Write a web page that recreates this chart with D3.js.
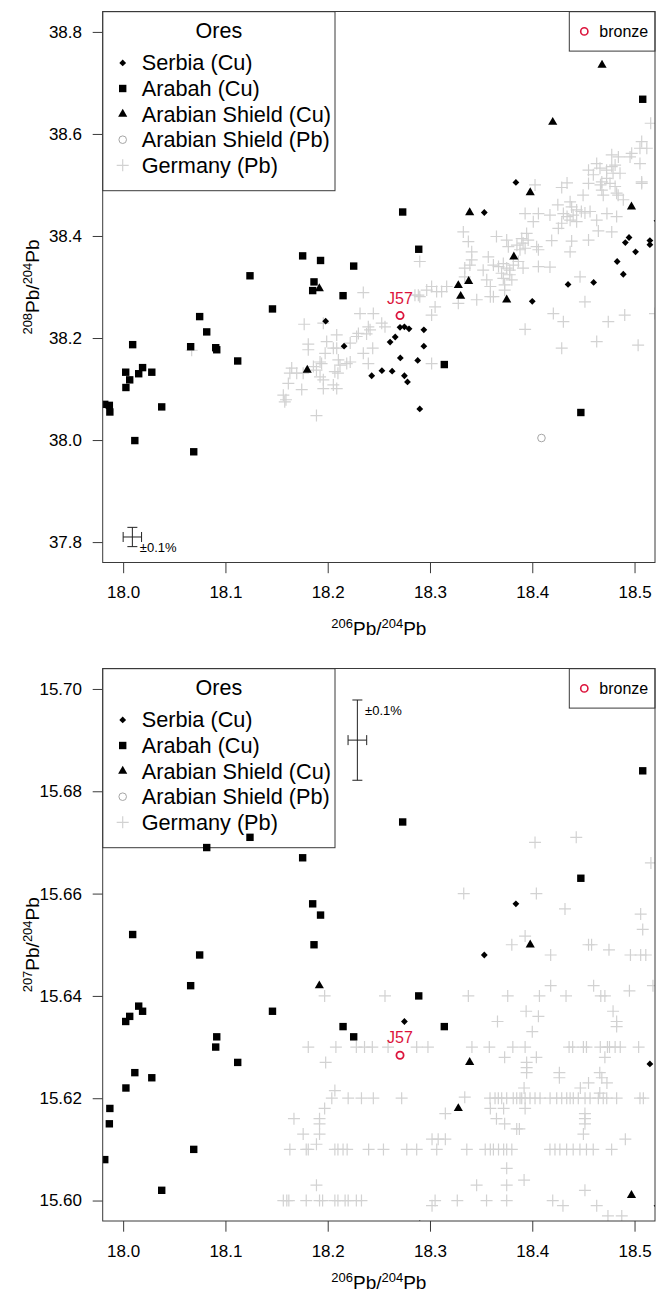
<!DOCTYPE html>
<html>
<head>
<meta charset="utf-8">
<script src="https://cdn.jsdelivr.net/npm/d3@7"></script>
<style>
  html, body { margin: 0; padding: 0; background: #fff; }
  svg { display: block; font-family: "Liberation Sans", Arial, Helvetica, sans-serif; }
</style>
</head>
<body>
<svg id="chart" width="665" height="1294"></svg>
<script>
// ---- Axis limits and tick labels ----
const x206Limits = [18.0, 18.5];
const y208Limits = [37.8, 38.8];
const y207Limits = [15.60, 15.70];
const x206Ticks = [18.0, 18.1, 18.2, 18.3, 18.4, 18.5];
const y208Ticks = [37.8, 38.0, 38.2, 38.4, 38.6, 38.8];
const y207Ticks = [15.60, 15.62, 15.64, 15.66, 15.68, 15.70];

// ---- Ore groups (null = outside the plotted range of that ratio) ----
const oreNames = ["Serbia (Cu)", "Arabah (Cu)", "Arabian Shield (Cu)", "Arabian Shield (Pb)", "Germany (Pb)"];

const serbia206 = [18.384, 18.3531, 18.522, 18.4946, 18.491, 18.515, 18.515, 18.501, 18.483, 18.489,
  18.460, 18.435, 18.400, 18.2707, 18.275, 18.2795, 18.294, 18.266, 18.261, 18.294,
  18.271, 18.288, 18.253, 18.263, 18.243, 18.275, 18.278, 18.290, 18.198, 18.216];
const serbia208 = [38.505, 38.446, 38.430, 38.397, 38.387, 38.391, 38.383, 38.369, 38.350, 38.325,
  38.309, 38.305, 38.272, 38.221, 38.222, 38.218, 38.216, 38.202, 38.192, 38.184,
  38.161, 38.156, 38.136, 38.135, 38.126, 38.126, 38.114, 38.061, 38.233, 38.184];
const serbia207 = [15.658, 15.648, 15.599, null, null, 15.6267, null, null, null, null,
  null, null, null, null, 15.635, null, null, null, null, null,
  null, null, null, null, null, null, null, 15.5955, null, null];

const arabah206 = [18.1755, 18.193, 18.2254, 18.124, 18.1866, 18.1853, 18.215, 18.146, 18.0748, 18.0817,
  18.0093, 18.066, 18.0905, 18.0915, 18.112, 18.019, 18.0025, 18.0152, 18.028, 18.0064,
  18.0027, 18.0377, 17.982, 17.9865, 17.987, 18.0114, 18.069, 18.2733, 18.289, 18.314,
  18.4475, 18.508];
const arabah208 = [38.361, 38.352, 38.341, 38.322, 38.310, 38.293, 38.283, 38.257, 38.242, 38.212,
  38.187, 38.183, 38.181, 38.177, 38.155, 38.142, 38.133, 38.130, 38.133, 38.118,
  38.103, 38.065, 38.070, 38.068, 38.055, 37.999, 37.977, 38.447, 38.374, 38.148,
  38.054, 38.668];
const arabah207 = [15.667, 15.6558, 15.632, 15.671, 15.650, 15.658, 15.634, 15.637, 15.648, 15.669,
  15.652, 15.642, 15.630, 15.632, 15.627, 15.637, 15.635, 15.638, 15.624, 15.636,
  15.622, 15.602, 15.608, 15.615, 15.618, 15.625, 15.610, 15.674, 15.640, 15.634,
  15.663, 15.684];

const shieldCu206 = [18.4682, 18.420, 18.398, 18.3388, 18.497, 18.382, 18.3277, 18.3378, 18.330, 18.375, 18.1918, 18.180];
const shieldCu208 = [38.735, 38.623, 38.485, 38.446, 38.457, 38.359, 38.303, 38.311, 38.282, 38.275, 38.297, 38.137];
const shieldCu207 = [null, null, 15.650, 15.627, 15.601, null, 15.618, null, null, null, 15.642, null];

const shieldPb206 = [18.409];
const shieldPb208 = [38.004];
const shieldPb207 = [null];

const germany208 = [
  [18.2348,38.289],[18.2316,38.248],[18.2446,38.248],[18.177,38.227],[18.1957,38.229],[18.2397,38.222],
  [18.2088,38.206],[18.230,38.209],[18.2283,38.203],[18.238,38.208],[18.181,38.188],[18.199,38.193],
  [18.2055,38.180],[18.2088,38.180],[18.222,38.190],[18.244,38.180],[18.2348,38.170],[18.181,38.177],
  [18.1975,38.170],[18.1925,38.153],[18.194,38.150],[18.2104,38.157],[18.212,38.147],[18.2186,38.150],
  [18.222,38.153],[18.2397,38.150],[18.1648,38.141],[18.163,38.131],[18.176,38.131],[18.186,38.144],
  [18.189,38.137],[18.1925,38.124],[18.207,38.134],[18.210,38.131],[18.1697,38.131],[18.1957,38.118],
  [18.1615,38.111],[18.1746,38.099],[18.1957,38.101],[18.2055,38.108],[18.2088,38.101],[18.1566,38.088],
  [18.1592,38.079],[18.189,38.048],[18.067,38.176],[18.158,38.075],
  [18.4027,38.500],[18.4288,38.495],[18.434,38.504],[18.455,38.503],[18.4667,38.500],[18.468,38.490],
  [18.4694,38.480],[18.476,38.503],[18.484,38.480],[18.489,38.471],[18.507,38.503],[18.4497,38.480],
  [18.425,38.461],[18.437,38.467],[18.4385,38.457],[18.4434,38.451],[18.448,38.448],[18.4515,38.445],
  [18.4565,38.448],[18.4304,38.444],[18.434,38.438],[18.437,38.431],[18.4288,38.425],[18.4255,38.415],
  [18.440,38.441],[18.4434,38.428],[18.463,38.431],[18.473,38.444],[18.4825,38.438],[18.4777,38.408],
  [18.4646,38.410],[18.455,38.392],[18.4385,38.390],[18.437,38.369],[18.419,38.391],[18.406,38.444],
  [18.393,38.444],[18.401,38.428],[18.4173,38.441],[18.3945,38.405],[18.396,38.392],[18.3897,38.395],
  [18.391,38.386],[18.393,38.376],[18.385,38.382],[18.388,38.373],[18.4043,38.379],[18.406,38.373],
  [18.375,38.392],[18.3766,38.379],[18.365,38.399],[18.357,38.359],[18.362,38.343],[18.367,38.340],
  [18.3717,38.346],[18.375,38.337],[18.378,38.333],[18.3815,38.343],[18.391,38.337],[18.3864,38.350],
  [18.4173,38.339],[18.406,38.340],[18.370,38.327],[18.3717,38.317],[18.373,38.304],[18.373,38.294],
  [18.378,38.324],[18.380,38.314],[18.352,38.333],[18.3555,38.314],[18.359,38.301],[18.359,38.281],
  [18.362,38.281],[18.3457,38.275],[18.3408,38.353],[18.339,38.343],[18.334,38.337],[18.334,38.320],
  [18.3326,38.408],[18.3375,38.389],[18.3408,38.369],[18.3277,38.268],[18.3163,38.301],[18.3114,38.291],
  [18.3065,38.291],[18.3016,38.301],[18.2968,38.294],[18.2886,38.284],[18.2853,38.284],[18.305,38.261],
  [18.3016,38.245],[18.290,38.350],[18.290,38.281],[18.2414,38.216],[18.2528,38.229],[18.256,38.222],
  [18.3016,38.150],[18.4206,38.248],[18.4304,38.232],[18.393,38.217],[18.4288,38.180],[18.4467,38.320],
  [18.4515,38.271],[18.463,38.193],[18.4743,38.232],[18.4904,38.245],[18.5035,38.186],[18.520,38.248],
  [18.5158,38.621],[18.507,38.585],[18.5053,38.572],[18.512,38.572],[18.4972,38.562],[18.4956,38.555],
  [18.4777,38.559],[18.4842,38.555],[18.481,38.539],[18.4777,38.536],[18.5053,38.542],[18.463,38.542],
  [18.4662,38.533],[18.4727,38.529],[18.479,38.523],[18.4858,38.523],[18.455,38.529],[18.4597,38.520],
  [18.468,38.506],[18.4727,38.513],[18.507,38.506],[18.481,38.497],[18.4825,38.484]
];

const germany207 = [
  [18.4027,15.670],[18.443,15.671],[18.516,15.666],[18.333,15.660],[18.404,15.660],[18.432,15.657],
  [18.506,15.656],[18.508,15.653],[18.393,15.6517],[18.380,15.650],[18.455,15.650],[18.458,15.650],
  [18.475,15.649],[18.496,15.648],[18.506,15.648],[18.511,15.648],[18.418,15.648],[18.418,15.642],
  [18.460,15.642],[18.495,15.641],[18.518,15.642],[18.256,15.640],[18.3375,15.640],[18.376,15.640],
  [18.407,15.640],[18.433,15.640],[18.467,15.640],[18.471,15.640],[18.197,15.640],[18.394,15.637],
  [18.406,15.636],[18.366,15.635],[18.400,15.633],[18.479,15.637],[18.4825,15.635],[18.4825,15.634],
  [18.181,15.630],[18.208,15.630],[18.228,15.630],[18.236,15.630],[18.2436,15.630],[18.259,15.630],
  [18.287,15.630],[18.298,15.630],[18.341,15.630],[18.358,15.630],[18.381,15.630],[18.393,15.630],
  [18.436,15.630],[18.4395,15.630],[18.450,15.630],[18.453,15.630],[18.4665,15.630],[18.4735,15.630],
  [18.4755,15.630],[18.481,15.630],[18.486,15.630],[18.504,15.630],
  [18.198,15.627],[18.207,15.6215],[18.204,15.620],[18.220,15.620],[18.233,15.620],[18.197,15.618],
  [18.167,15.616],[18.192,15.616],[18.192,15.615],[18.176,15.613],[18.192,15.613],[18.189,15.611],
  [18.163,15.610],[18.179,15.610],[18.181,15.610],[18.207,15.610],[18.210,15.610],[18.215,15.610],
  [18.219,15.610],[18.240,15.610],[18.189,15.603],
  [18.1566,15.600],[18.160,15.600],[18.162,15.600],[18.179,15.600],[18.192,15.600],[18.195,15.600],
  [18.207,15.600],[18.210,15.600],[18.217,15.600],[18.220,15.600],[18.228,15.600],[18.233,15.600],
  [18.373,15.628],[18.3945,15.627],[18.404,15.628],[18.3945,15.626],[18.3945,15.625],[18.471,15.628],
  [18.4265,15.625],[18.4265,15.624],[18.466,15.625],[18.468,15.624],[18.473,15.623],[18.455,15.623],
  [18.447,15.622],[18.466,15.621],[18.392,15.622],
  [18.2446,15.620],[18.2723,15.620],[18.3587,15.620],[18.3636,15.620],[18.3668,15.620],[18.3701,15.620],
  [18.375,15.620],[18.3814,15.620],[18.3848,15.620],[18.388,15.620],[18.3897,15.620],[18.393,15.620],
  [18.3978,15.620],[18.4027,15.620],[18.4076,15.620],[18.4174,15.620],[18.4239,15.620],[18.4288,15.620],
  [18.4337,15.620],[18.437,15.620],[18.4401,15.620],[18.445,15.620],[18.4516,15.620],[18.4565,15.620],
  [18.4646,15.620],[18.4694,15.620],[18.4728,15.620],[18.4825,15.620],[18.5053,15.620],[18.5086,15.620],
  [18.334,15.6202],[18.315,15.617],[18.359,15.618],[18.372,15.618],[18.393,15.618],[18.365,15.616],
  [18.373,15.615],[18.3848,15.614],[18.3874,15.614],[18.4515,15.617],[18.4515,15.616],[18.4515,15.615],
  [18.450,15.613],[18.302,15.612],[18.308,15.612],[18.315,15.612],[18.491,15.612],
  [18.2545,15.610],[18.2773,15.610],[18.287,15.610],[18.3066,15.610],[18.336,15.610],[18.354,15.610],
  [18.359,15.610],[18.362,15.610],[18.367,15.610],[18.372,15.610],[18.375,15.610],[18.380,15.610],
  [18.4173,15.610],[18.4222,15.610],[18.427,15.610],[18.4336,15.610],[18.440,15.610],[18.4466,15.610],
  [18.453,15.610],[18.4596,15.610],[18.4776,15.610],
  [18.375,15.6063],[18.375,15.603],[18.375,15.600],[18.392,15.604],[18.3456,15.603],[18.4515,15.602],
  [18.305,15.600],[18.302,15.599],[18.3267,15.600],[18.3553,15.600],[18.420,15.600],[18.430,15.599],
  [18.463,15.599],[18.474,15.597],[18.4875,15.597]
];

// ---- Bronze sample ----
const bronzeLabels = ["J57"];
const bronze206 = [18.2707];
const bronze208 = [38.244];
const bronze207 = [15.6284];

// ---- Measurement uncertainty marker (full bar span = 0.1 % of the value) ----
const errLabel = "\u00b10.1%";
const errSpan = 0.001;
const errCentre206 = [18.009, 18.229];
const errCentre208 = [37.81];
const errCentre207 = [15.690];

// ---- Layout ----
const W = 665, H = 1294;
const plotLeft = 102.7, plotRight = 655;
const FONT = '"Liberation Sans", Arial, Helvetica, sans-serif';
const BLACK = "#000", FRAME = "#3a3a3a";
const GREY_CROSS = "#d2d2d2", GREY_CIRCLE = "#a6a6a6", BRONZE = "#dc143c";

const svg = d3.select("#chart");
svg.append("rect").attr("width", W).attr("height", H).attr("fill", "#fff");

// R-style axis extension (4 % on each side)
function padded(lim) { const d = (lim[1] - lim[0]) * 0.04; return [lim[0] - d, lim[1] + d]; }

// ---- Point symbols ----
function drawSquare(g, cx, cy, s) {
  g.append("rect").attr("x", cx - s / 2).attr("y", cy - s / 2).attr("width", s).attr("height", s).attr("fill", BLACK);
}
function drawDiamond(g, cx, cy, s) {
  g.append("path").attr("d", `M${cx},${cy - s}L${cx + s},${cy}L${cx},${cy + s}L${cx - s},${cy}Z`).attr("fill", BLACK);
}
function drawTriangle(g, cx, cy, r) {
  const hw = r * Math.sqrt(3) / 2;
  g.append("path").attr("d", `M${cx},${cy - r}L${cx + hw},${cy + r / 2}L${cx - hw},${cy + r / 2}Z`).attr("fill", BLACK);
}
function drawCircle(g, cx, cy, r, colour, w) {
  g.append("circle").attr("cx", cx).attr("cy", cy).attr("r", r).attr("fill", "none").attr("stroke", colour).attr("stroke-width", w);
}
function drawCross(g, cx, cy, a) {
  g.append("path").attr("d", `M${cx - a},${cy}H${cx + a}M${cx},${cy - a}V${cy + a}`)
    .attr("stroke", GREY_CROSS).attr("stroke-width", 1.2).attr("fill", "none");
}
const SQ = 7.4, DI = 3.4, TR = 5.3, CI = 3.8, CR = 6;

const panels = [
  { id: "p208", top: 11.5, bottom: 562.5, titleGap: 72, yLim: y208Limits, yTicks: y208Ticks, fmt: d3.format(".1f"),
    iso: "208", serbia: serbia208, arabah: arabah208, shieldCu: shieldCu208, shieldPb: shieldPb208,
    germany: germany208, bronze: bronze208,
    err: { x: errCentre206[0], y: errCentre208[0], lx: 18.0163, ly: 37.7887 } },
  { id: "p207", top: 668.5, bottom: 1221, titleGap: 68, yLim: y207Limits, yTicks: y207Ticks, fmt: d3.format(".2f"),
    iso: "207", serbia: serbia207, arabah: arabah207, shieldCu: shieldCu207, shieldPb: shieldPb207,
    germany: germany207, bronze: bronze207,
    err: { x: errCentre206[1], y: errCentre207[0], lx: 18.2365, ly: 15.6958 } }
];

panels.forEach(p => {
  const x = d3.scaleLinear().domain(padded(x206Limits)).range([plotLeft, plotRight]);
  const y = d3.scaleLinear().domain(padded(p.yLim)).range([p.bottom, p.top]);
  const root = svg.append("g").attr("id", p.id);

  root.append("clipPath").attr("id", "clip-" + p.id)
    .append("rect").attr("x", plotLeft).attr("y", p.top)
    .attr("width", plotRight - plotLeft).attr("height", p.bottom - p.top);

  // axes
  const xa = root.append("g").attr("transform", `translate(0,${p.bottom})`)
    .call(d3.axisBottom(x).tickValues(x206Ticks).tickFormat(d3.format(".1f"))
      .tickSizeInner(10.7).tickSizeOuter(0).tickPadding(13.2));
  const ya = root.append("g").attr("transform", `translate(${plotLeft},0)`)
    .call(d3.axisLeft(y).tickValues(p.yTicks).tickFormat(p.fmt)
      .tickSizeInner(10).tickSizeOuter(0).tickPadding(10.7));
  [xa, ya].forEach(a => {
    a.select(".domain").remove();
    a.attr("font-family", FONT).attr("font-size", 17).attr("color", BLACK);
    a.selectAll(".tick line").attr("stroke", FRAME);
  });

  // axis titles with superscript mass numbers
  function isoTitle(sel, top) {
    sel.append("tspan").attr("font-size", 13).attr("dy", -7).text(top);
    sel.append("tspan").attr("font-size", 19).attr("dy", 7).text("Pb/");
    sel.append("tspan").attr("font-size", 13).attr("dy", -7).text("204");
    sel.append("tspan").attr("font-size", 19).attr("dy", 7).text("Pb");
  }
  const xt = root.append("text").attr("x", (plotLeft + plotRight) / 2).attr("y", p.bottom + p.titleGap)
    .attr("text-anchor", "middle").attr("font-family", FONT).attr("fill", BLACK);
  isoTitle(xt, "206");
  const yt = root.append("text")
    .attr("transform", `translate(39,${(p.top + p.bottom) / 2}) rotate(-90)`)
    .attr("text-anchor", "middle").attr("font-family", FONT).attr("fill", BLACK);
  isoTitle(yt, p.iso);

  // ore legend (top-left)
  const lg = root.append("g");
  const lTop = p.top + 0.2, lLeft = plotLeft, lW = 232.3, lH = 179;
  lg.append("rect").attr("x", lLeft).attr("y", lTop).attr("width", lW).attr("height", lH)
    .attr("fill", "#fff").attr("stroke", FRAME).attr("stroke-width", 1);
  lg.append("text").attr("x", lLeft + lW / 2).attr("y", lTop + 19).attr("dy", "0.35em")
    .attr("text-anchor", "middle").attr("font-size", 21.5).attr("font-family", FONT).text("Ores");
  oreNames.forEach((name, i) => {
    const cy = lTop + 51.2 + i * 25.6, cx = lLeft + 20;
    if (i === 0) drawDiamond(lg, cx, cy, DI);
    if (i === 1) drawSquare(lg, cx, cy, SQ);
    if (i === 2) drawTriangle(lg, cx, cy, TR);
    if (i === 3) drawCircle(lg, cx, cy, CI, GREY_CIRCLE, 1);
    if (i === 4) drawCross(lg, cx, cy, CR);
    lg.append("text").attr("x", lLeft + 39).attr("y", cy).attr("dy", "0.35em")
      .attr("font-size", 21.7).attr("font-family", FONT).text(name);
  });

  // bronze legend (top-right)
  const bg = root.append("g");
  const bL = 569.3, bT = p.top + 0.2, bH = 39.4;
  bg.append("rect").attr("x", bL).attr("y", bT).attr("width", plotRight - bL).attr("height", bH)
    .attr("fill", "#fff").attr("stroke", FRAME).attr("stroke-width", 1);
  drawCircle(bg, bL + 15, bT + bH / 2, 3.6, BRONZE, 1.6);
  bg.append("text").attr("x", bL + 30).attr("y", bT + bH / 2).attr("dy", "0.35em")
    .attr("font-size", 16).attr("font-family", FONT).text("bronze");

  // data points (clipped to the plot region)
  const pts = root.append("g").attr("clip-path", `url(#clip-${p.id})`);
  p.germany.forEach(d => drawCross(pts, x(d[0]), y(d[1]), CR));
  shieldPb206.forEach((v, i) => { if (p.shieldPb[i] != null) drawCircle(pts, x(v), y(p.shieldPb[i]), CI, GREY_CIRCLE, 1); });
  serbia206.forEach((v, i) => { if (p.serbia[i] != null) drawDiamond(pts, x(v), y(p.serbia[i]), DI); });
  arabah206.forEach((v, i) => { if (p.arabah[i] != null) drawSquare(pts, x(v), y(p.arabah[i]), SQ); });
  shieldCu206.forEach((v, i) => { if (p.shieldCu[i] != null) drawTriangle(pts, x(v), y(p.shieldCu[i]), TR); });

  // bronze sample with label
  bronze206.forEach((v, i) => {
    const cx = x(v), cy = y(p.bronze[i]);
    drawCircle(pts, cx, cy, 3.6, BRONZE, 1.8);
    pts.append("text").attr("x", cx).attr("y", cy - 12).attr("text-anchor", "middle")
      .attr("font-size", 16).attr("font-family", FONT).attr("fill", BRONZE).text(bronzeLabels[i]);
  });

  // uncertainty cross
  const e = p.err;
  const ex0 = x(e.x * (1 - errSpan / 2)), ex1 = x(e.x * (1 + errSpan / 2));
  const ey0 = y(e.y * (1 - errSpan / 2)), ey1 = y(e.y * (1 + errSpan / 2));
  const ecx = x(e.x), ecy = y(e.y), cap = 5;
  pts.append("path")
    .attr("d", `M${ex0},${ecy}H${ex1}M${ex0},${ecy - cap}V${ecy + cap}M${ex1},${ecy - cap}V${ecy + cap}` +
               `M${ecx},${ey0}V${ey1}M${ecx - cap},${ey0}H${ecx + cap}M${ecx - cap},${ey1}H${ecx + cap}`)
    .attr("stroke", "#222").attr("stroke-width", 1).attr("fill", "none");
  pts.append("text").attr("x", x(e.lx)).attr("y", y(e.ly)).attr("dy", "0.35em")
    .attr("font-size", 13).attr("font-family", FONT).attr("fill", BLACK).text(errLabel);

  // plot frame
  root.append("rect").attr("x", plotLeft).attr("y", p.top)
    .attr("width", plotRight - plotLeft).attr("height", p.bottom - p.top)
    .attr("fill", "none").attr("stroke", FRAME).attr("stroke-width", 1);
});
</script>
</body>
</html>
